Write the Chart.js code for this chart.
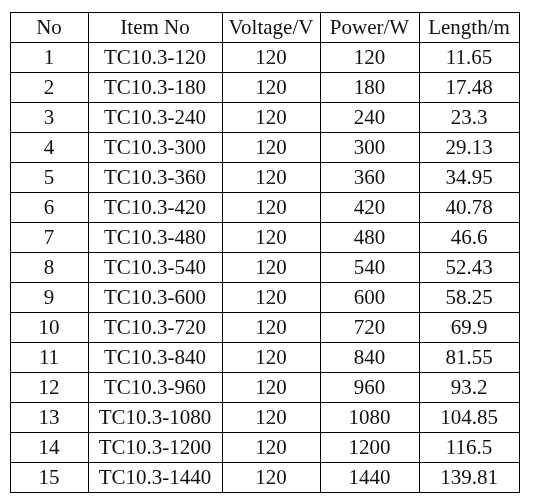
<!DOCTYPE html>
<html><head><meta charset="utf-8">
<script src="https://cdn.jsdelivr.net/npm/chart.js@4"></script>
<style>html,body{margin:0;padding:0;background:#fff}</style>
</head><body>
<canvas id="c" width="535" height="501"></canvas>
<script>
const headers = ["No","Item No","Voltage/V","Power/W","Length/m"];
const nos = [1,2,3,4,5,6,7,8,9,10,11,12,13,14,15];
const items = ["TC10.3-120","TC10.3-180","TC10.3-240","TC10.3-300","TC10.3-360","TC10.3-420","TC10.3-480","TC10.3-540","TC10.3-600","TC10.3-720","TC10.3-840","TC10.3-960","TC10.3-1080","TC10.3-1200","TC10.3-1440"];
const voltage = [120,120,120,120,120,120,120,120,120,120,120,120,120,120,120];
const power = [120,180,240,300,360,420,480,540,600,720,840,960,1080,1200,1440];
const lengthM = ["11.65","17.48","23.3","29.13","34.95","40.78","46.6","52.43","58.25","69.9","81.55","93.2","104.85","116.5","139.81"];
const colEdges = [0,78,212,310,409,509];

const columns = [nos, items, voltage, power, lengthM];
const cells = [];
headers.forEach((h,c)=>cells.push({x:(colEdges[c]+colEdges[c+1])/2, y:0.5, t:String(h)}));
columns.forEach((col,c)=>col.forEach((v,r)=>cells.push({x:(colEdges[c]+colEdges[c+1])/2, y:r+1.5, t:String(v)})));

const textPlugin = {
  id:'cellText',
  afterDatasetsDraw(chart){
    const ctx = chart.ctx, xs = chart.scales.x, ys = chart.scales.y;
    ctx.save();
    ctx.fillStyle = '#111';
    ctx.font = '21px "Liberation Serif", serif';
    ctx.textAlign = 'center';
    ctx.textBaseline = 'middle';
    chart.data.datasets[0].data.forEach(p=>{
      ctx.fillText(p.t, xs.getPixelForValue(p.x), ys.getPixelForValue(p.y)+1);
    });
    ctx.restore();
  }
};

new Chart(document.getElementById('c'), {
  type:'scatter',
  data:{datasets:[{data:cells, pointRadius:0, pointHoverRadius:0}]},
  options:{
    responsive:false, animation:false, events:[],
    layout:{padding:{left:10,top:12,right:16,bottom:9}},
    plugins:{legend:{display:false}, tooltip:{enabled:false}},
    scales:{
      x:{type:'linear', min:0, max:509,
        afterBuildTicks(s){ s.ticks = colEdges.map(v=>({value:v})); },
        ticks:{display:false},
        grid:{color:'#000', lineWidth:1, drawTicks:false},
        border:{color:'#000', width:1}},
      y:{type:'linear', min:0, max:16, reverse:true,
        afterBuildTicks(s){ s.ticks = Array.from({length:17},(_,i)=>({value:i})); },
        ticks:{display:false},
        grid:{color:'#000', lineWidth:1, drawTicks:false},
        border:{color:'#000', width:1}}
    }
  },
  plugins:[textPlugin]
});
</script>
</body></html>
